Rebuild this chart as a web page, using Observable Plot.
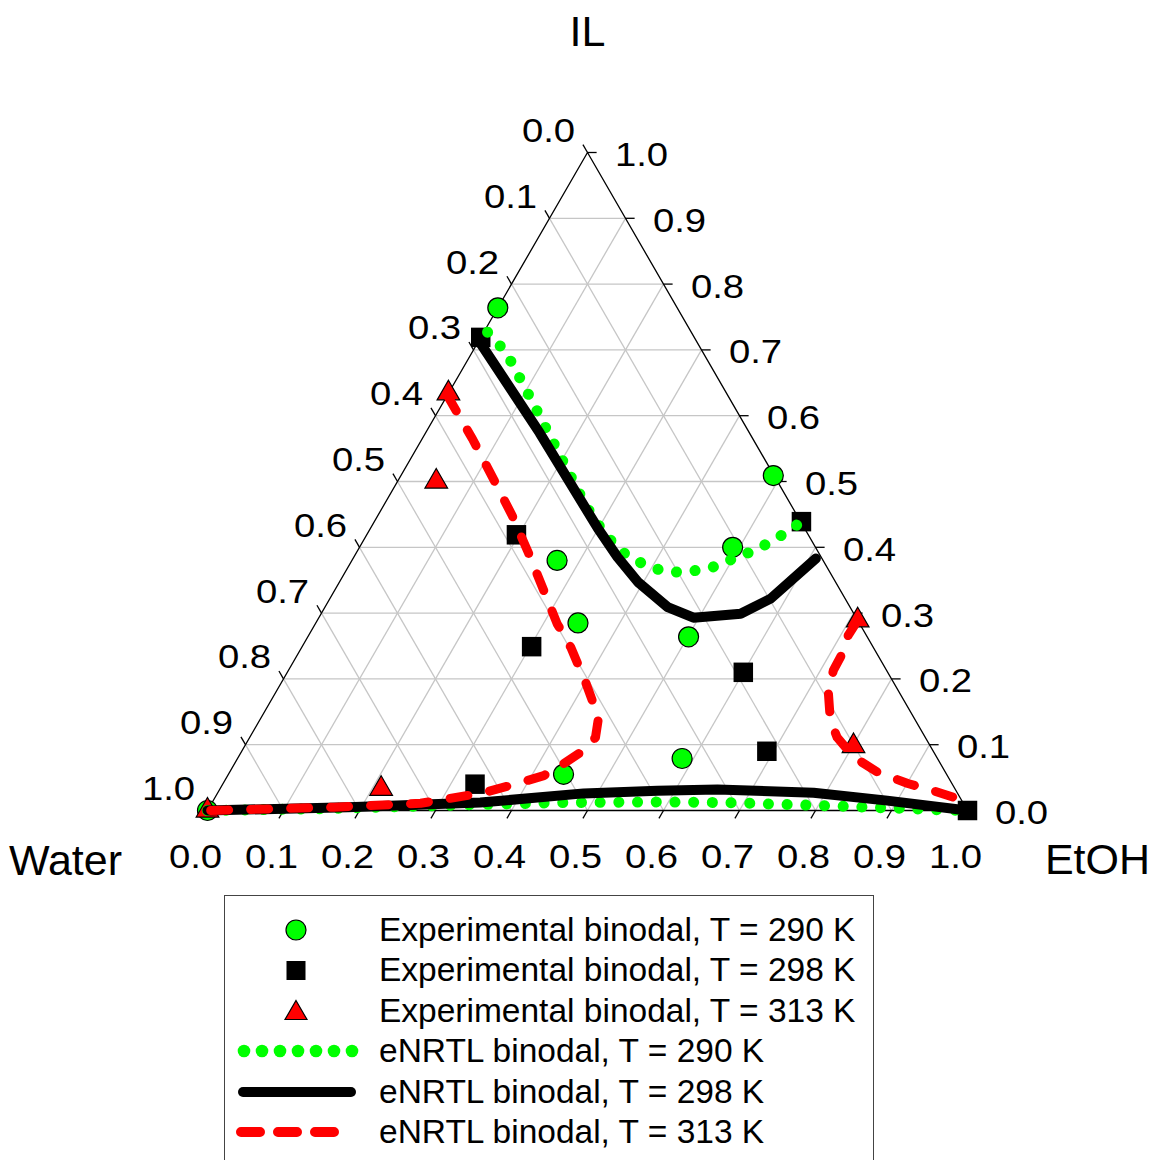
<!DOCTYPE html>
<html>
<head>
<meta charset="utf-8">
<script src="https://cdn.jsdelivr.net/npm/d3@7"></script>
<script src="https://cdn.jsdelivr.net/npm/@observablehq/plot@0.6"></script>
<style>
  body { margin: 0; background: #fff; font-family: "Liberation Sans", Arial, sans-serif; }
  #page { position: relative; width: 1153px; height: 1160px; overflow: hidden; background: #fff; }
  #legend { position: absolute; left: 224px; top: 895px; width: 650px; height: 300px;
            border: 1.2px solid #444; box-sizing: border-box; padding-top: 14px; }
  .row { display: flex; align-items: center; height: 40.4px; }
  .row svg { flex: 0 0 154px; width: 154px; height: 40px; }
  .row span { font-size: 33.5px; line-height: 40.4px; color: #000; white-space: nowrap; }
</style>
</head>
<body>
<div id="page"><div id="chart"></div><div id="legend"></div></div>
<script>
// ---- axis ticks ----
const ticks = [0, 0.1, 0.2, 0.3, 0.4, 0.5, 0.6, 0.7, 0.8, 0.9, 1.0];
const tickLabels = ["0.0", "0.1", "0.2", "0.3", "0.4", "0.5", "0.6", "0.7", "0.8", "0.9", "1.0"];
const vertexNames = ["Water", "EtOH", "IL"];

// ---- data: [EtOH fraction, IL fraction] (Water = 1 - EtOH - IL) ----
const exp290 = [[0.000, 0.764], [0.490, 0.509], [0.491, 0.400], [0.270, 0.380], [0.345, 0.285],
                [0.501, 0.264], [0.585, 0.079], [0.441, 0.055], [0.000, 0.000]];
const exp298 = [[0.000, 0.719], [0.562, 0.439], [0.197, 0.419], [0.302, 0.249], [0.600, 0.210],
                [0.691, 0.090], [0.332, 0.040], [1.000, 0.000]];
const exp313 = [[0.000, 0.634], [0.051, 0.500], [0.711, 0.289], [0.801, 0.098], [0.212, 0.033],
                [0.000, 0.000]];

const model290Upper = [[0.005, 0.727], [0.045, 0.696], [0.098, 0.641], [0.151, 0.585], [0.204, 0.529],
                       [0.256, 0.474], [0.285, 0.445], [0.318, 0.416], [0.351, 0.392], [0.385, 0.375],
                       [0.414, 0.365], [0.440, 0.362], [0.462, 0.365], [0.483, 0.371], [0.501, 0.383],
                       [0.520, 0.394], [0.538, 0.409], [0.553, 0.426], [0.562, 0.439]];
const model290Lower = [[0.000, 0.000], [0.160, 0.003], [0.316, 0.008], [0.458, 0.012], [0.590, 0.013],
                       [0.678, 0.012], [0.843, 0.006], [0.990, 0.000]];
const model298Upper = [[0.000, 0.714], [0.150, 0.574], [0.299, 0.429], [0.347, 0.385], [0.393, 0.347],
                       [0.451, 0.309], [0.493, 0.293], [0.552, 0.299], [0.580, 0.322], [0.609, 0.383]];
const model298Lower = [[0.000, 0.000], [0.182, 0.005], [0.353, 0.012], [0.482, 0.026], [0.577, 0.030],
                       [0.655, 0.032], [0.784, 0.027], [0.887, 0.015], [1.000, 0.000]];
const model313Left = [[0.000, 0.631], [0.066, 0.565], [0.126, 0.502], [0.177, 0.448], [0.227, 0.391],
                      [0.273, 0.337], [0.318, 0.284], [0.354, 0.248], [0.400, 0.195], [0.444, 0.141],
                      [0.455, 0.111], [0.449, 0.091], [0.433, 0.071], [0.416, 0.053], [0.387, 0.041],
                      [0.350, 0.027], [0.275, 0.011], [0.164, 0.005], [0.000, 0.000]];
const model313Right = [[0.711, 0.289], [0.710, 0.266], [0.716, 0.239], [0.717, 0.213], [0.728, 0.178],
                       [0.751, 0.137], [0.773, 0.111], [0.810, 0.081], [0.853, 0.058], [0.901, 0.041],
                       [0.940, 0.030], [0.972, 0.020]];

const legendLabels = ["Experimental binodal, T = 290 K", "Experimental binodal, T = 298 K",
                      "Experimental binodal, T = 313 K", "eNRTL binodal, T = 290 K",
                      "eNRTL binodal, T = 298 K", "eNRTL binodal, T = 313 K"];

// ---- ternary -> cartesian ----
const X = d => d[0] + d[1] / 2;
const Y = d => d[1];

const GREEN = "#00ff00", RED = "#ff0000";
const eps = 0.012;

const gridSegs = [];
ticks.slice(1, -1).forEach(t => {
  gridSegs.push([[0, t], [1 - t, t]]);       // constant IL
  gridSegs.push([[t, 0], [t, 1 - t]]);       // constant EtOH
  gridSegs.push([[1 - t, 0], [0, 1 - t]]);   // constant Water
});
const tickSegs = [];
ticks.forEach(t => {
  tickSegs.push([[t, 0], [t, -eps]]);                    // EtOH (bottom)
  tickSegs.push([[0, 1 - t], [-eps, 1 - t + eps]]);      // Water (left)
  tickSegs.push([[1 - t, t], [1 - t + eps, t]]);         // IL (right)
});
const border = [[0, 0], [1, 0], [0, 1], [0, 0]];
const vertices = [[0, 0], [1, 0], [0, 1]];

const seg = {x1: s => X(s[0]), y1: s => Y(s[0]), x2: s => X(s[1]), y2: s => Y(s[1])};
const tickFont = {fontSize: 33, fontFamily: "Liberation Sans, Arial, sans-serif", text: (t, i) => tickLabels[i]};
const vFont = {fontSize: 43, fontFamily: "Liberation Sans, Arial, sans-serif"};

const plot = Plot.plot({
  width: 1153,
  height: 890,
  margin: 0,
  x: {domain: [0, 1], range: [207, 967], axis: null},
  y: {domain: [0, 1], range: [810, 152], axis: null},
  marks: [
    Plot.link(gridSegs, {...seg, stroke: "#c6c6c6", strokeWidth: 1.3}),
    Plot.line(border, {x: X, y: Y, stroke: "black", strokeWidth: 1.3}),
    Plot.link(tickSegs, {...seg, stroke: "black", strokeWidth: 1.3}),
    Plot.text(ticks, {...tickFont, x: t => X([0, 1 - t]), y: t => 1 - t, dx: -39, dy: -21}),
    Plot.text(ticks, {...tickFont, x: t => X([1 - t, t]), y: t => t, dx: 54, dy: 3}),
    Plot.text(ticks, {...tickFont, x: t => X([t, 0]), y: 0, dx: -12, dy: 47}),
    Plot.text([vertices[0]], {...vFont, x: X, y: Y, text: () => vertexNames[0], dx: -142, dy: 51}),
    Plot.text([vertices[1]], {...vFont, x: X, y: Y, text: () => vertexNames[1], dx: 130, dy: 50}),
    Plot.text([vertices[2]], {...vFont, x: X, y: Y, text: () => vertexNames[2], dx: 0, dy: -120}),
    Plot.dot(exp290, {x: X, y: Y, r: 10, fill: GREEN, stroke: "black", strokeWidth: 1.2}),
    Plot.dot(exp298, {x: X, y: Y, symbol: "square", r: 11, fill: "black", stroke: "none"}),
    Plot.dot(exp313, {x: X, y: Y, symbol: "triangle", r: 8.4, fill: RED, stroke: "black", strokeWidth: 1.2}),
    Plot.line(model290Upper, {x: X, y: Y, stroke: GREEN, strokeWidth: 11, strokeDasharray: "0.1 18.6", strokeLinecap: "round"}),
    Plot.line(model290Lower, {x: X, y: Y, stroke: GREEN, strokeWidth: 11, strokeDasharray: "0.1 18.6", strokeLinecap: "round"}),
    Plot.line(model298Upper, {x: X, y: Y, stroke: "black", strokeWidth: 10, strokeLinejoin: "round"}),
    Plot.line(model298Lower, {x: X, y: Y, stroke: "black", strokeWidth: 10, strokeLinejoin: "round"}),
    Plot.line(model313Left, {x: X, y: Y, stroke: RED, strokeWidth: 9, strokeDasharray: "18 22", strokeLinecap: "round"}),
    Plot.line(model313Right, {x: X, y: Y, stroke: RED, strokeWidth: 9, strokeDasharray: "18 22", strokeLinecap: "round"})
  ]
});

// widen the tick-label digits like the original
plot.querySelectorAll("text").forEach(el => {
  if (/^\d\.\d$/.test(el.textContent.trim())) {
    const tr = el.getAttribute("transform");
    if (tr) el.setAttribute("transform", tr + " scale(1.16,1)");
    else {
      const x = +el.getAttribute("x") || 0, y = +el.getAttribute("y") || 0;
      el.removeAttribute("x"); el.removeAttribute("y");
      el.setAttribute("transform", `translate(${x},${y}) scale(1.16,1)`);
    }
  }
});
document.getElementById("chart").appendChild(plot);

// ---- legend ----
const dotRow = d3.range(7).map(k => `<circle cx="${19 + k * 18}" cy="20" r="6.3" fill="${GREEN}"/>`).join("");
const swatches = [
  `<circle cx="71" cy="20" r="10" fill="${GREEN}" stroke="black" stroke-width="1.2"/>`,
  `<rect x="61.5" y="10" width="19" height="19" fill="black"/>`,
  `<path d="M71,9.5 L82,28.5 L60,28.5 Z" fill="${RED}" stroke="black" stroke-width="1.2"/>`,
  dotRow,
  `<line x1="18" y1="20" x2="126" y2="20" stroke="black" stroke-width="10" stroke-linecap="round"/>`,
  `<line x1="16" y1="20" x2="114" y2="20" stroke="${RED}" stroke-width="10" stroke-linecap="round" stroke-dasharray="19 18"/>`
];
const legend = document.getElementById("legend");
legendLabels.forEach((lab, i) => {
  const row = document.createElement("div");
  row.className = "row";
  row.innerHTML = `<svg viewBox="0 0 154 40">${swatches[i]}</svg><span>${lab}</span>`;
  legend.appendChild(row);
});
</script>
</body>
</html>
